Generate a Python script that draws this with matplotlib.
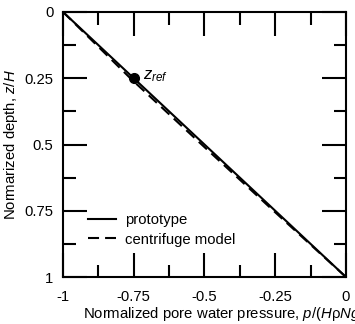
import matplotlib
matplotlib.use("Agg")
import matplotlib.pyplot as plt
from matplotlib.ticker import MultipleLocator

plt.rcParams['font.family'] = ['Liberation Sans', 'DejaVu Sans']
plt.rcParams['mathtext.fontset'] = 'custom'
plt.rcParams['mathtext.rm'] = 'Liberation Sans'
plt.rcParams['mathtext.it'] = 'Liberation Sans:italic'

# data
proto_z = [0.0, 1.0]
proto_p = [-1.0, 0.0]
model_z = [0.0, 0.25, 0.5, 0.75, 1.0]
model_p = [-1.0, -0.762, -0.51, -0.256, 0.0]
zref_p = -0.75
zref_z = 0.25
xticks = [-1, -0.75, -0.5, -0.25, 0]
xlabels = ['-1', '-0.75', '-0.5', '-0.25', '0']
yticks = [0, 0.25, 0.5, 0.75, 1]
ylabels = ['0', '0.25', '0.5', '0.75', '1']

fs = 10.7

fig = plt.figure(figsize=(3.55, 3.24), dpi=100)
ax = fig.add_axes([0.1775, 0.145, 0.797, 0.818])

ax.plot(proto_p, proto_z, 'k-', lw=1.5, label='prototype')
ax.plot(model_p, model_z, 'k--', lw=1.5, dashes=(5.3, 2.9), label='centrifuge model')
ax.plot([zref_p], [zref_z], 'ko', ms=7)
ax.text(zref_p + 0.033, zref_z - 0.008, r'$z_{ref}$', fontsize=12, va='center')

ax.set_xlim(-1, 0)
ax.set_ylim(1, 0)
ax.set_xticks(xticks)
ax.set_xticklabels(xlabels)
ax.set_yticks(yticks)
ax.set_yticklabels(ylabels)
ax.xaxis.set_minor_locator(MultipleLocator(0.125))
ax.yaxis.set_minor_locator(MultipleLocator(0.125))
ax.tick_params(which='both', direction='in', top=True, right=True, width=1.5,
               labelsize=fs)
ax.tick_params(axis='x', pad=9)
ax.tick_params(axis='y', pad=7)
ax.tick_params(which='major', length=17)
ax.tick_params(which='minor', length=9)
for s in ax.spines.values():
    s.set_linewidth(1.5)

# the reference's own label runs past the right edge of the figure
ax.set_xlabel(r'Normalized pore water pressure, $p$/($H$ρ$Ng$)', fontsize=fs,
              ha='left')
ax.xaxis.set_label_coords(0.07, -0.105)
ax.set_ylabel(r'Normarized depth, $z$/$H$', fontsize=fs)
ax.yaxis.set_label_coords(-0.153, 0.5)

ax.legend(loc='upper left', frameon=False, fontsize=fs, handlelength=1.9,
          bbox_to_anchor=(0.088, 0.24), borderaxespad=0, borderpad=0,
          labelspacing=0.35, handletextpad=0.6)

fig.savefig('out.png', dpi=100)
